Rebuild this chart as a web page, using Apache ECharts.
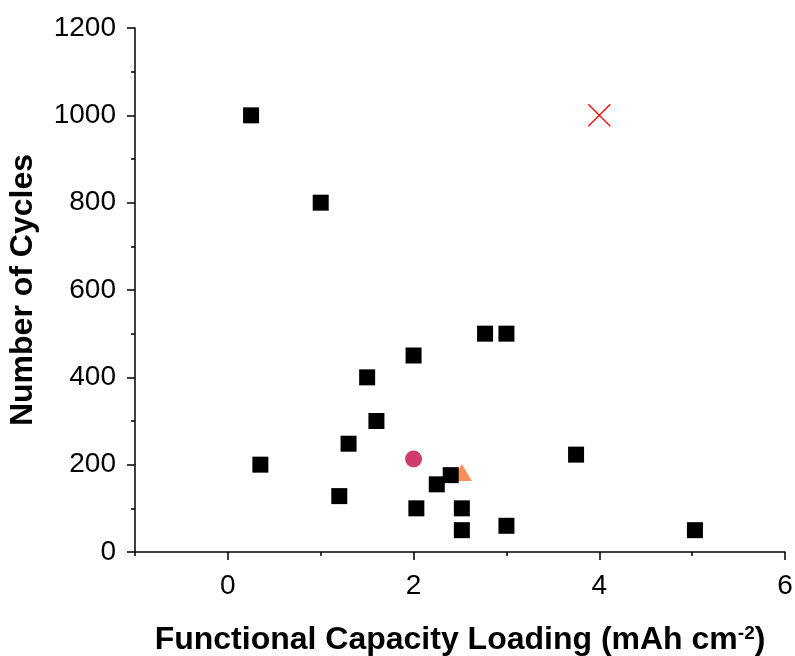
<!DOCTYPE html>
<html>
<head>
<meta charset="utf-8">
<script src="https://cdn.jsdelivr.net/npm/echarts@6/dist/echarts.min.js"></script>
<style>html,body{margin:0;padding:0;background:#fff;}#c{width:795px;height:656px;}</style>
</head>
<body>
<div id="c"></div>
<script>
const squareX = [0.25, 1.0, 0.35, 1.2, 1.3, 1.5, 1.6, 2.0, 2.03, 2.25, 2.4, 2.52, 2.52, 3.0, 2.77, 3.0, 3.75, 5.03];
const squareY = [1000, 800, 200, 128, 248, 400, 300, 450, 100, 155, 176, 100, 50, 60, 500, 500, 223, 50];
const circleX = [2.0];
const circleY = [213];
const triangleX = [2.52];
const triangleY = [182];
const crossX = [4.0];
const crossY = [1000];
const xMajorTicks = [0, 2, 4, 6];
const xMinorTicks = [-1, 1, 3, 5];
const yTicks = [0, 200, 400, 600, 800, 1000, 1200];

const pairs = (xs, ys) => xs.map((x, i) => [x, ys[i]]);
const font = 'Liberation Sans, Arial, sans-serif';

const chart = echarts.init(document.getElementById('c'), null, {renderer: 'canvas'});
chart.setOption({
  animation: false,
  backgroundColor: '#fff',
  grid: {left: 135, right: 10, top: 28, bottom: 104, containLabel: false, outerBoundsMode: 'none'},
  xAxis: [{
    type: 'value', min: -1, max: 6, interval: 1,
    name: 'Functional Capacity Loading (mAh cm{sup|-2})',
    nameLocation: 'middle', nameGap: 72,
    nameTextStyle: {fontFamily: font, fontSize: 32, fontWeight: 'bold', color: '#000',
      rich: {sup: {fontFamily: font, fontSize: 19, fontWeight: 'bold', color: '#000', verticalAlign: 'top', padding: [0, 0, 14, 0]}}},
    axisLine: {show: true, onZero: false, lineStyle: {color: '#000', width: 1.5}},
    axisTick: {show: true, inside: false, length: 8, lineStyle: {color: '#000', width: 1.5}, customValues: xMajorTicks},
    axisLabel: {show: true, fontFamily: font, fontSize: 28, color: '#000', margin: 20, customValues: xMajorTicks},
    splitLine: {show: false}
  }, {
    type: 'value', min: -1, max: 6, interval: 1, position: 'bottom',
    axisLine: {show: false},
    axisTick: {show: true, length: 4, lineStyle: {color: '#000', width: 1.5}, customValues: xMinorTicks},
    axisLabel: {show: false},
    splitLine: {show: false}
  }],
  yAxis: {
    type: 'value', min: 0, max: 1200, interval: 200,
    name: 'Number of Cycles', nameLocation: 'middle', nameGap: 96,
    nameTextStyle: {fontFamily: font, fontSize: 32, fontWeight: 'bold', color: '#000'},
    axisLine: {show: true, onZero: false, lineStyle: {color: '#000', width: 1.5}},
    axisTick: {show: true, length: 8, lineStyle: {color: '#000', width: 1.5}},
    minorTick: {show: true, splitNumber: 2, length: 4, lineStyle: {color: '#000', width: 1.5}},
    axisLabel: {fontFamily: font, fontSize: 28, color: '#000', margin: 19,
      formatter: v => yTicks.includes(v) ? String(v) : ''},
    splitLine: {show: false}
  },
  series: [
    {type: 'scatter', data: pairs(squareX, squareY), symbol: 'rect', symbolSize: 16,
      itemStyle: {color: '#000', opacity: 1}, z: 3},
    {type: 'scatter', data: pairs(circleX, circleY), symbol: 'circle', symbolSize: 17,
      itemStyle: {color: '#CC3D6E', opacity: 1}, z: 2},
    {type: 'scatter', data: pairs(triangleX, triangleY), symbol: 'triangle', symbolSize: [20, 17],
      itemStyle: {color: '#FF8C5C', opacity: 1}, z: 2},
    {type: 'scatter', data: pairs(crossX, crossY), symbol: 'path://M0,0L10,10M10,0L0,10', symbolSize: 22,
      itemStyle: {color: 'none', borderColor: '#FF0000', borderWidth: 1.3, opacity: 1}, z: 2}
  ]
});
</script>
</body>
</html>
